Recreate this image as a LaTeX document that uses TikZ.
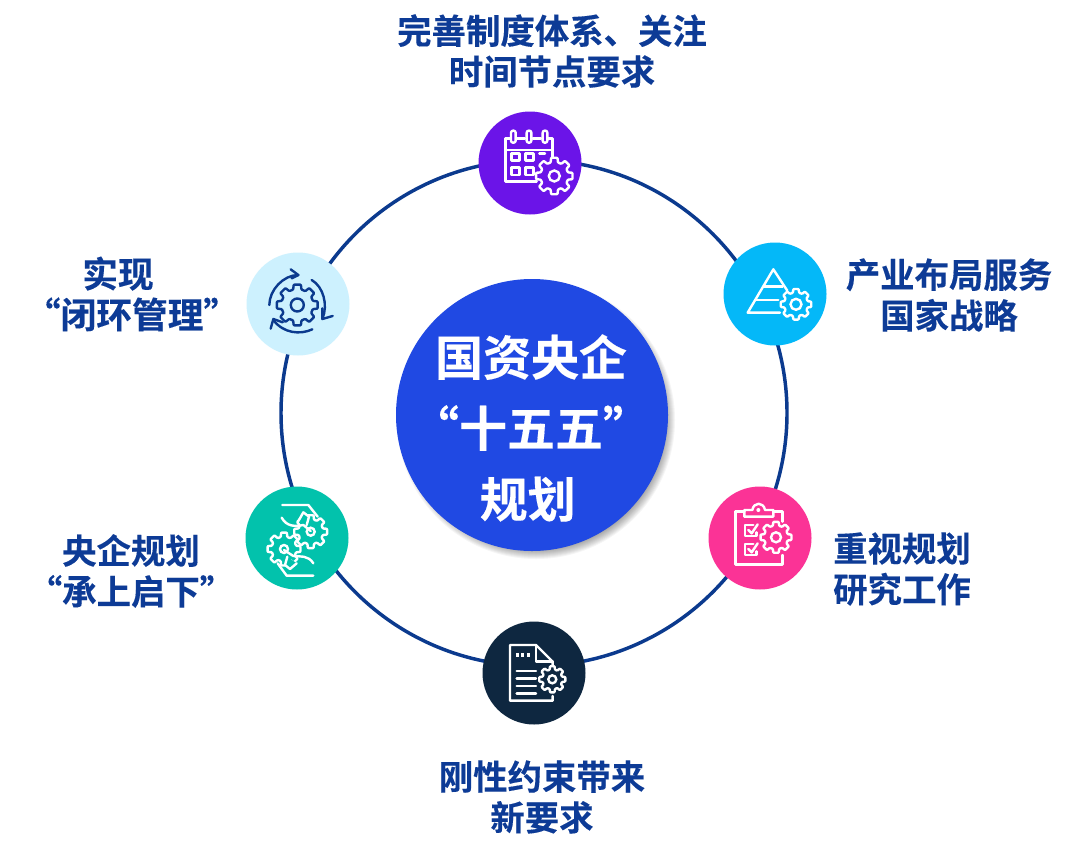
\documentclass[tikz,border=0pt]{standalone}
\usepackage{fontspec}
\setmainfont{Noto Sans CJK SC}
\newfontfamily\cjkb[FakeBold=0.25]{Noto Sans CJK SC Bold}
\definecolor{ringc}{HTML}{0B3A8E}
\definecolor{textc}{HTML}{0D3B96}
\definecolor{corec}{HTML}{2049E3}
\definecolor{purplec}{HTML}{6B14E8}
\definecolor{skyc}{HTML}{04B8F8}
\definecolor{pinkc}{HTML}{FB3396}
\definecolor{navyc}{HTML}{0E2740}
\definecolor{greenc}{HTML}{02C2AC}
\definecolor{palec}{HTML}{CDF1FE}
\tikzset{
  ring/.style={draw=ringc,line width=2.6pt},
  disc/.style={circle,minimum size=77.25pt,inner sep=0pt,draw=none},
  core/.style={circle,minimum size=204pt,inner sep=0pt,fill=corec},
  coretext/.style={text=white,font=\cjkb\fontsize{36}{53.2}\selectfont,align=center,inner sep=0pt},
  lab/.style={text=textc,font=\cjkb\fontsize{25.8}{30.6}\selectfont,align=center,inner sep=0pt},
  ico/.style={draw=#1,line width=1.8pt,line cap=round,line join=round},
  zoomed/.style={x=0.25pt,y=-0.25pt}
}
% \gearico{x}{y}{outer}{inner}{hole}{stroke}{fill}
\newcommand\gearico[7]{%
  \begin{scope}[shift={(#1,#2)}]
    \draw[draw=#6,fill=#7,line width=1.8pt,line join=round,rounded corners=0.6pt]
      (-22.5:#4) \foreach \k in {0,45,...,315}{ -- (\k-15:#4) -- (\k-10:#3) -- (\k+10:#3) -- (\k+15:#4)} -- cycle;
    \draw[draw=#6,line width=1.8pt] (0,0) circle[radius=#5];
  \end{scope}}
\begin{document}
\begin{tikzpicture}[x=0.75pt,y=-0.75pt]
\useasboundingbox (0,0) rectangle (1080,860);
\fill[white] (0,0) rectangle (1080,860);
\coordinate (hub) at (534,413);
\draw[ring] (hub) circle[radius=253];
% shadow of the core
\foreach \r in {139,138,...,128}{\fill[black,opacity=0.04] (536,420) circle[radius=\r];}
\node[core] (core) at (532,415) {};
\node[coretext] (coretxt) at (531,428) {国资央企\\“十五五”\\规划\hspace*{5pt}};
% discs
\node[disc,fill=purplec] (n1) at (530,163) {};
\node[disc,fill=skyc]    (n2) at (775,294) {};
\node[disc,fill=pinkc]   (n3) at (760,538) {};
\node[disc,fill=navyc]   (n4) at (534,673) {};
\node[disc,fill=greenc]  (n5) at (297,538) {};
\node[disc,fill=palec]   (n6) at (298,304) {};
% labels
\node[lab] (t1) at (552,51) {完善制度体系、关注\\时间节点要求};
\node[lab] (t2) at (949,295) {产业布局服务\\国家战略};
\node[lab] (t3) at (902,569) {重视规划\\研究工作};
\node[lab] (t4) at (542,797) {刚性约束带来\\新要求};
\node[lab] (t5) at (131,571) {央企规划\\“承上启下”};
\node[lab,font=\cjkb\fontsize{26.8}{30.6}\selectfont] (t6) at (132,294) {实现\hspace*{21pt}\\“闭环管理”};
% calendar icon
\begin{scope}[shift={(460,100)},zoomed]
  \draw[ico=white] (150,115) -- (137,115) -- (137,245) -- (230,245);
  \draw[ico=white] (172,115) -- (195,115) (218,115) -- (243,115) (265,115) -- (277,115) -- (277,175);
  \draw[ico=white] (137,150) -- (277,150);
  \foreach \x in {160,207,255}{\draw[ico=white,fill=purplec,rounded corners=1.5pt] (\x-7,92) rectangle (\x+7,128);}
  \foreach \x/\y in {155/160,197/160,155/203,197/203}{\draw[ico=white] (\x,\y) rectangle (\x+23,\y+22);}
  \draw[ico=white] (238,160) -- (255,160);
\end{scope}
\gearico{554.3}{176}{18.5}{14}{5.5}{white}{purplec}
% pyramid icon
\begin{scope}[shift={(710,230)},zoomed]
  \draw[ico=white] (210,248) -- (113,248) -- (190,118) -- (232,182);
  \draw[ico=white] (160,170) -- (218,170) (137,210) -- (205,210);
\end{scope}
\gearico{796}{304.3}{15.5}{12}{5.5}{white}{skyc}
% clipboard icon
\begin{scope}[shift={(695,475)},zoomed]
  \draw[ico=white] (148,110) -- (122,110) -- (122,268) -- (262,268) -- (262,240);
  \draw[ico=white] (235,110) -- (262,110) -- (262,140);
  \draw[ico=white] (148,125) -- (148,105) -- (172,105) .. controls (176,80) and (206,80) .. (210,105) -- (235,105) -- (235,125) -- cycle;
  \fill[white] (190,105) circle[radius=6];
  \foreach \d in {0,57}{
    \begin{scope}[yshift=-\d*0.25pt]
    \draw[ico=white] (175,150) -- (150,150) -- (150,183) -- (185,183) -- (185,172);
    \draw[ico=white] (160,165) -- (170,175) -- (188,148);
    \end{scope}}
\end{scope}
\gearico{776}{537.3}{15.7}{12}{5}{white}{pinkc}
% document icon
\begin{scope}[shift={(470,610)},zoomed]
  \draw[ico=white] (248,175) -- (248,155) -- (198,105) -- (120,105) -- (120,272) -- (248,272) -- (248,258);
  \draw[ico=white] (198,105) -- (198,155) -- (248,155);
  \foreach \x in {142,158,175}{\draw[white,line width=1.8pt] (\x,129) -- (\x,141);}
  \draw[ico=white] (140,183) -- (198,183) (140,205) -- (198,205) (140,228) -- (198,228) (140,250) -- (198,250);
\end{scope}
\gearico{552.3}{679.3}{13.3}{10}{4}{white}{navyc}
% hands and gears icon
\gearico{310.7}{531.7}{16.7}{12.5}{4}{white}{greenc}
\gearico{284}{549}{16.7}{12.5}{4}{white}{greenc}
\begin{scope}[shift={(235,475)},zoomed]
  \draw[ico=white] (142,90) -- (220,90) -- (248,125);
  \draw[ico=white] (140,128) .. controls (155,155) and (180,155) .. (205,150) -- (227,168);
  \draw[ico=white,fill=greenc] (192,135) -- (205,112) -- (222,125) -- (215,150);
  \draw[ico=white] (235,302) -- (155,302) -- (128,265);
  \draw[ico=white] (235,265) .. controls (220,240) and (195,245) .. (175,243) -- (147,225);
  \draw[ico=white,fill=greenc] (157,245) -- (150,270) -- (165,282) -- (185,265);
\end{scope}
% cycle icon
\gearico{297.3}{305}{20.7}{16}{6.5}{ringc}{palec}
\begin{scope}[shift={(235,240)},zoomed]
  \draw[ico=ringc] (103,195) .. controls (103,150) and (145,105) .. (190,105);
  \draw[ico=ringc] (167,88) -- (190,105) -- (170,115);
  \draw[ico=ringc] (230,120) .. controls (265,140) and (280,195) .. (262,237);
  \draw[ico=ringc] (262,205) -- (262,237) -- (293,228);
  \draw[ico=ringc] (232,268) .. controls (195,285) and (145,280) .. (115,240);
  \draw[ico=ringc] (107,266) -- (115,237) -- (143,247);
\end{scope}
\end{tikzpicture}
\end{document}
